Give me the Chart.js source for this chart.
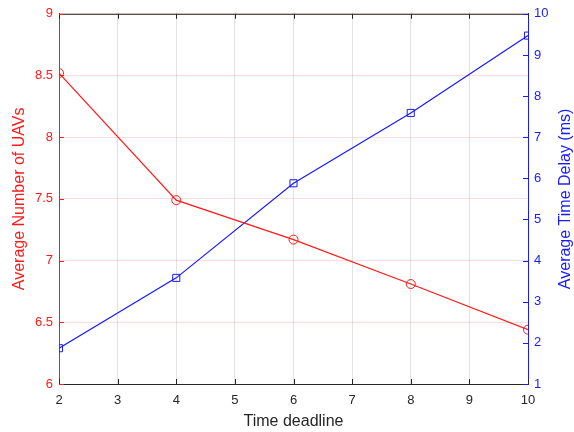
<!DOCTYPE html>
<html>
<head>
<meta charset="utf-8">
<script src="https://cdn.jsdelivr.net/npm/chart.js@4"></script>
<style>
  html, body { margin: 0; padding: 0; background: #fff; }
</style>
</head>
<body>
<canvas id="chart" width="574" height="432"></canvas>
<script>
// data
const deadlines = [2, 4, 6, 8, 10];
const avgUavs = [8.52, 7.49, 7.17, 6.81, 6.44];
const avgDelay = [1.87, 3.58, 5.88, 7.59, 9.47];

const xTicks = [2, 3, 4, 5, 6, 7, 8, 9, 10];
const leftTicks = [6, 6.5, 7, 7.5, 8, 8.5, 9];
const rightTicks = [1, 2, 3, 4, 5, 6, 7, 8, 9, 10];

const RED = '#ff1a1a';
const BLUE = '#1a1aff';
const DARK = '#262626';
const FONT = "'Liberation Sans', Arial, sans-serif";

const setTicks = list => scale => { scale.ticks = list.map(v => ({ value: v })); };

// MATLAB-like inward ticks, top box edge and right-hand title
const boxPlugin = {
    id: 'box',
    afterDraw(chart) {
        const { ctx, chartArea: a, scales } = chart;
        const len = 5;
        ctx.save();
        ctx.lineWidth = 1;

        ctx.strokeStyle = DARK;
        ctx.beginPath();
        ctx.moveTo(a.left, a.top + 0.5);
        ctx.lineTo(a.right, a.top + 0.5);
        xTicks.forEach(v => {
            const px = Math.round(scales.x.getPixelForValue(v)) + 0.5;
            ctx.moveTo(px, a.bottom);
            ctx.lineTo(px, a.bottom - len);
            ctx.moveTo(px, a.top);
            ctx.lineTo(px, a.top + len);
        });
        ctx.stroke();

        ctx.strokeStyle = RED;
        ctx.beginPath();
        leftTicks.forEach(v => {
            const py = Math.round(scales.y.getPixelForValue(v)) + 0.5;
            ctx.moveTo(a.left, py);
            ctx.lineTo(a.left + len, py);
        });
        ctx.stroke();

        ctx.strokeStyle = BLUE;
        ctx.beginPath();
        rightTicks.forEach(v => {
            const py = Math.round(scales.y2.getPixelForValue(v)) + 0.5;
            ctx.moveTo(a.right, py);
            ctx.lineTo(a.right - len, py);
        });
        ctx.stroke();

        ctx.fillStyle = BLUE;
        ctx.font = '16px ' + FONT;
        ctx.textAlign = 'center';
        ctx.textBaseline = 'middle';
        ctx.translate(566, (a.top + a.bottom) / 2);
        ctx.rotate(-Math.PI / 2);
        ctx.fillText('Average Time Delay (ms)', 0, 0);
        ctx.restore();
    }
};

new Chart(document.getElementById('chart'), {
    type: 'line',
    data: {
        datasets: [
            {
                label: 'Average Number of UAVs',
                data: deadlines.map((x, i) => ({ x, y: avgUavs[i] })),
                yAxisID: 'y',
                borderColor: RED,
                borderWidth: 1.2,
                pointStyle: 'circle',
                pointRadius: 4.5,
                pointBorderColor: RED,
                pointBackgroundColor: 'transparent',
                pointBorderWidth: 1
            },
            {
                label: 'Average Time Delay (ms)',
                data: deadlines.map((x, i) => ({ x, y: avgDelay[i] })),
                yAxisID: 'y2',
                borderColor: BLUE,
                borderWidth: 1.2,
                pointStyle: 'rect',
                pointRadius: 5,
                pointBorderColor: BLUE,
                pointBackgroundColor: 'transparent',
                pointBorderWidth: 1
            }
        ]
    },
    options: {
        responsive: false,
        animation: false,
        layout: { padding: { top: 13, left: 0, right: 0, bottom: 0 } },
        plugins: {
            legend: { display: false },
            tooltip: { enabled: false }
        },
        scales: {
            x: {
                type: 'linear',
                min: 2,
                max: 10,
                afterBuildTicks: setTicks(xTicks),
                afterFit: s => { s.height = 48; },
                grid: { color: '#e3e3e3', drawTicks: false },
                border: { color: DARK, width: 1 },
                ticks: { color: DARK, padding: 9, font: { family: FONT, size: 13 } },
                title: {
                    display: true,
                    text: 'Time deadline',
                    color: DARK,
                    font: { family: FONT, size: 16 },
                    padding: { top: 0, bottom: 1 }
                }
            },
            y: {
                position: 'left',
                min: 6,
                max: 9,
                afterBuildTicks: setTicks(leftTicks),
                afterFit: s => { s.width = 59; },
                grid: { color: 'rgba(255,0,0,0.13)', drawTicks: false },
                border: { color: RED, width: 1 },
                ticks: {
                    color: RED,
                    padding: 6,
                    font: { family: FONT, size: 13 },
                    callback: v => String(v)
                },
                title: {
                    display: true,
                    text: 'Average Number of UAVs',
                    color: RED,
                    font: { family: FONT, size: 16 },
                    padding: { top: 10, bottom: 0 }
                }
            },
            y2: {
                position: 'right',
                min: 1,
                max: 10,
                afterBuildTicks: setTicks(rightTicks),
                afterFit: s => { s.width = 46; },
                grid: { display: false, drawTicks: false },
                border: { color: BLUE, width: 1 },
                ticks: {
                    color: BLUE,
                    padding: 6,
                    font: { family: FONT, size: 13 },
                    callback: v => String(v)
                }
            }
        }
    },
    plugins: [boxPlugin]
});
</script>
</body>
</html>
